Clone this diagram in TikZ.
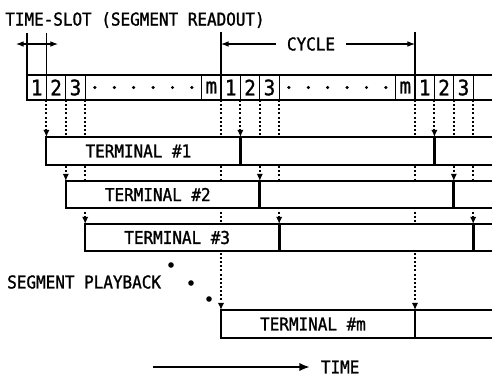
\documentclass[tikz,border=0pt]{standalone}
\usepackage{fontspec}
\setmonofont{DejaVu Sans Mono}[FakeStretch=0.9, FakeBold=1.2]
\usetikzlibrary{arrows.meta,positioning,calc}
\tikzset{
  px/.style={x=0.75pt, y=-0.75pt},
  rowln/.style={draw=black, line width=1.6pt},
  divln/.style={draw=black, line width=1pt},
  cutln/.style={draw=black, line width=2pt},
  dimln/.style={draw=black, line width=0.8pt},
  arr/.style={-{Latex[length=2mm,width=1.5mm]}, draw=black, line width=0.8pt},
  dimarr/.style={{Latex[length=2mm,width=1.5mm]}-{Latex[length=2mm,width=1.5mm]}, draw=black, line width=0.8pt},
  timearr/.style={-{Latex[length=2.8mm,width=2.2mm]}, draw=black, line width=2.2pt},
  dotarr/.style={-{Latex[length=1.9mm,width=1.7mm]}, draw=black, line width=1.5pt,
    dash pattern=on 1.5pt off 1.6pt},
  tbox/.style={fill=white},
  anno/.style={font=\ttfamily\fontsize{13.3}{15}\selectfont, inner sep=0pt},
  slotnum/.style={font=\ttfamily\fontsize{16}{17}\selectfont, inner sep=0pt},
  dotmark/.style={circle, fill=black, inner sep=0pt, minimum size=4.2pt}
}

\begin{document}
\begin{tikzpicture}[px]
  \useasboundingbox (0,0) rectangle (492,376);
  \def\sw{19.4}
  % slot boundaries, top and bottom of the readout row
  \foreach \k in {0,...,24} {
    \coordinate (rt\k) at (27+\k*\sw,75);
    \coordinate (rb\k) at (27+\k*\sw,100);
  }
  \coordinate (rowTR) at (492,75);
  \coordinate (rowBR) at (492,100);

  % time-slot and cycle marks
  \node[anno, anchor=west] (tslot) at (5,20) {TIME-SLOT (SEGMENT READOUT)};
  \coordinate (tsA) at (27,33);
  \coordinate (tsB) at (27+\sw,33);
  \coordinate (tsL) at (16,44);
  \coordinate (tsR) at (58,44);
  \draw[dimln] (tsA) -- (rt0);
  \draw[dimln] (tsB) -- (rt1);
  \draw[dimarr] (tsL) -- (tsR);

  \node[anno, inner xsep=8pt] (cycle) at (311,44) {CYCLE};
  \coordinate (cyA) at (27+10*\sw,32);
  \coordinate (cyB) at (27+20*\sw,32);
  \coordinate (cyAm) at (27+10*\sw,44);
  \coordinate (cyBm) at (27+20*\sw,44);
  \draw[dimln] (cyA) -- (rb10);
  \draw[dimln] (cyB) -- (rb20);
  \draw[arr] (cycle.west) -- (cyAm);
  \draw[arr] (cycle.east) -- (cyBm);

  % readout row
  \foreach \k in {1,2,3,9,11,12,13,19,21,22,23}
    \draw[divln] (rt\k) -- (rb\k);
  \draw[rowln] (rowTR) -- (rt0) -- (rb0) -- (rowBR);
  \foreach \c in {0,1,2} {
    \node[slotnum] (n1-\c) at ($(rt\the\numexpr10*\c\relax)!0.5!(rb\the\numexpr10*\c+1\relax)$) {1};
    \node[slotnum] (n2-\c) at ($(rt\the\numexpr10*\c+1\relax)!0.5!(rb\the\numexpr10*\c+2\relax)$) {2};
    \node[slotnum] (n3-\c) at ($(rt\the\numexpr10*\c+2\relax)!0.5!(rb\the\numexpr10*\c+3\relax)$) {3};
  }
  \foreach \c in {0,1} {
    \node[slotnum] (nm-\c) at ($(rt\the\numexpr10*\c+9\relax)!0.5!(rb\the\numexpr10*\c+10\relax)$) {m};
    \foreach \s in {3,...,8}
      \node[dotmark, minimum size=2.6pt] (sd-\c-\s) at ($(rt\the\numexpr10*\c+\s\relax)!0.5!(rb\the\numexpr10*\c+\s+1\relax)$) {};
  }

  % terminal rows: number / top / bottom
  \foreach \j/\top/\bot in {1/137/165, 2/181/208, 3/224/251} {
    \foreach \c in {0,1,2}
      \coordinate (t\j-\c) at (27+\j*\sw+\c*10*\sw,\top);
  }
  \coordinate (tm-0) at (27+10*\sw,310);
  \coordinate (tm-1) at (27+20*\sw,310);

  % playback starts, dotted from the row
  \foreach \j in {1,2,3}
    \foreach \c in {0,1,2}
      \draw[dotarr] (rb\the\numexpr\j+10*\c\relax) -- (t\j-\c);
  \draw[dotarr] (rb10) -- (tm-0);
  \draw[dotarr] (rb20) -- (tm-1);

  % terminal boxes
  \foreach \j/\top/\bot in {1/137/165, 2/181/208, 3/224/251} {
    \path[tbox] (t\j-0) rectangle (492,\bot);
    \draw[rowln] (492,\top) -- (t\j-0) |- (492,\bot);
    \draw[cutln] (t\j-1) -- ++(0,\bot-\top);
    \draw[cutln] (t\j-2) -- ++(0,\bot-\top);
    \node[anno] (term\j) at ($(t\j-0)+(92,{(\bot-\top)/2})$) {TERMINAL \#\j};
  }
  \path[tbox] (tm-0) rectangle (492,338);
  \draw[rowln] (492,310) -- (tm-0) |- (492,338);
  \draw[cutln] (tm-1) -- ++(0,28);
  \node[anno] (termm) at ($(tm-0)+(92,14)$) {TERMINAL \#m};

  % segment playback
  \node[anno, anchor=west] (play) at (7,282) {SEGMENT PLAYBACK};
  \node[dotmark] (pd1) at (171,265) {};
  \node[dotmark] (pd2) at (191,283) {};
  \node[dotmark] (pd3) at (209,299) {};

  % time axis
  \node[anno, anchor=west, inner xsep=8pt] (time) at (310,367) {TIME};
  \coordinate (t0) at (153,367);
  \draw[timearr] (t0) -- (time.west);
\end{tikzpicture}
\end{document}
